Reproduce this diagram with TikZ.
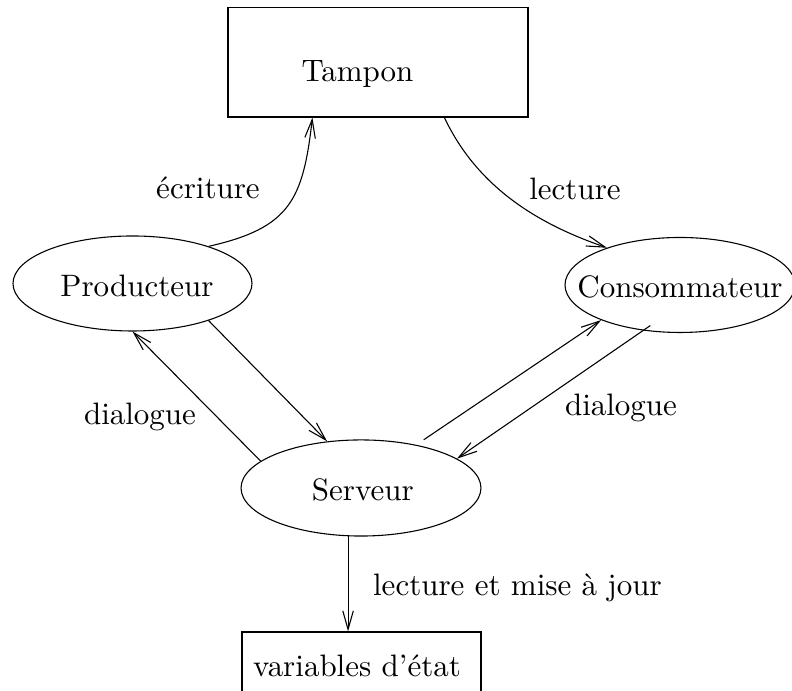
\documentclass[tikz,border=0pt]{standalone}
\usetikzlibrary{shapes.geometric,arrows.meta,calc}
\newcommand{\flatlabel}[1]{\makebox[0pt]{#1}}
\begin{document}
\begin{tikzpicture}[x=0.3226pt,y=-0.3226pt,line width=0.35pt,
  flow/.style={draw,-{Straight Barb[length=6pt,width=3.4pt]}},
  bubble/.style={draw,ellipse,inner sep=0pt,text height=8.2pt,text depth=0pt},
  store/.style={draw,rectangle,inner sep=0pt},
  word/.style={anchor=base,inner sep=0pt}]
\useasboundingbox (0,0) rectangle (792,691);
\clip (0,0) rectangle (792,691);

% shared data and state variables
\node[store,minimum width=96.8pt,minimum height=35.2pt] (tampon) at (378,62.5) {};
\node[word] (tamponlbl) at (357.5,82) {Tampon};
\node[store,minimum width=77.1pt,minimum height=28.4pt] (etat) at (361.5,676) {};
\node[word] (etatlbl) at (357,677) {variables d'état};

% processes (ellipse size fixed, independent of the label width)
\node[bubble,minimum width=77.1pt,minimum height=30.65pt] (prod) at (132.5,283.5) {\flatlabel{\hspace*{2.9pt}Producteur}};
\node[bubble,minimum width=74.2pt,minimum height=30.65pt] (cons) at (680,285) {\flatlabel{Consommateur}};
\node[bubble,minimum width=77.4pt,minimum height=31pt] (serv) at (361,488) {\flatlabel{\hspace*{1.2pt}Serveur}};

% buffer access
\draw[flow] (prod.26) .. controls (290,228) and (303,200) .. ($(tampon.south west)+(85,0)$);
\draw[flow] ($(tampon.south west)+(217,0)$) .. controls (480,193) and (547,227) .. (cons.153.7);

% dialogue with the server
\draw[flow] (prod.-26.1) -- (serv.126.9);
\draw[flow] (serv.165.1) -- (prod.-90);
\draw[flow,shorten <=2.9pt] (serv.38.8) -- (cons.-156.4);
\draw[flow,shorten <=-2.8pt] (cons.-129.6) -- (serv.17.5);
\draw[flow] (serv.-105.2) -- (serv.-105.2 |- etat.north);

% edge labels
\node[word] (lecr) at (208,199) {écriture};
\node[word] (llec) at (575,200) {lecture};
\node[word] (ldia1) at (140,425) {dialogue};
\node[word] (ldia2) at (621,416) {dialogue};
\node[word] (lmaj) at (517.5,596) {lecture et mise à jour};
\end{tikzpicture}
\end{document}
